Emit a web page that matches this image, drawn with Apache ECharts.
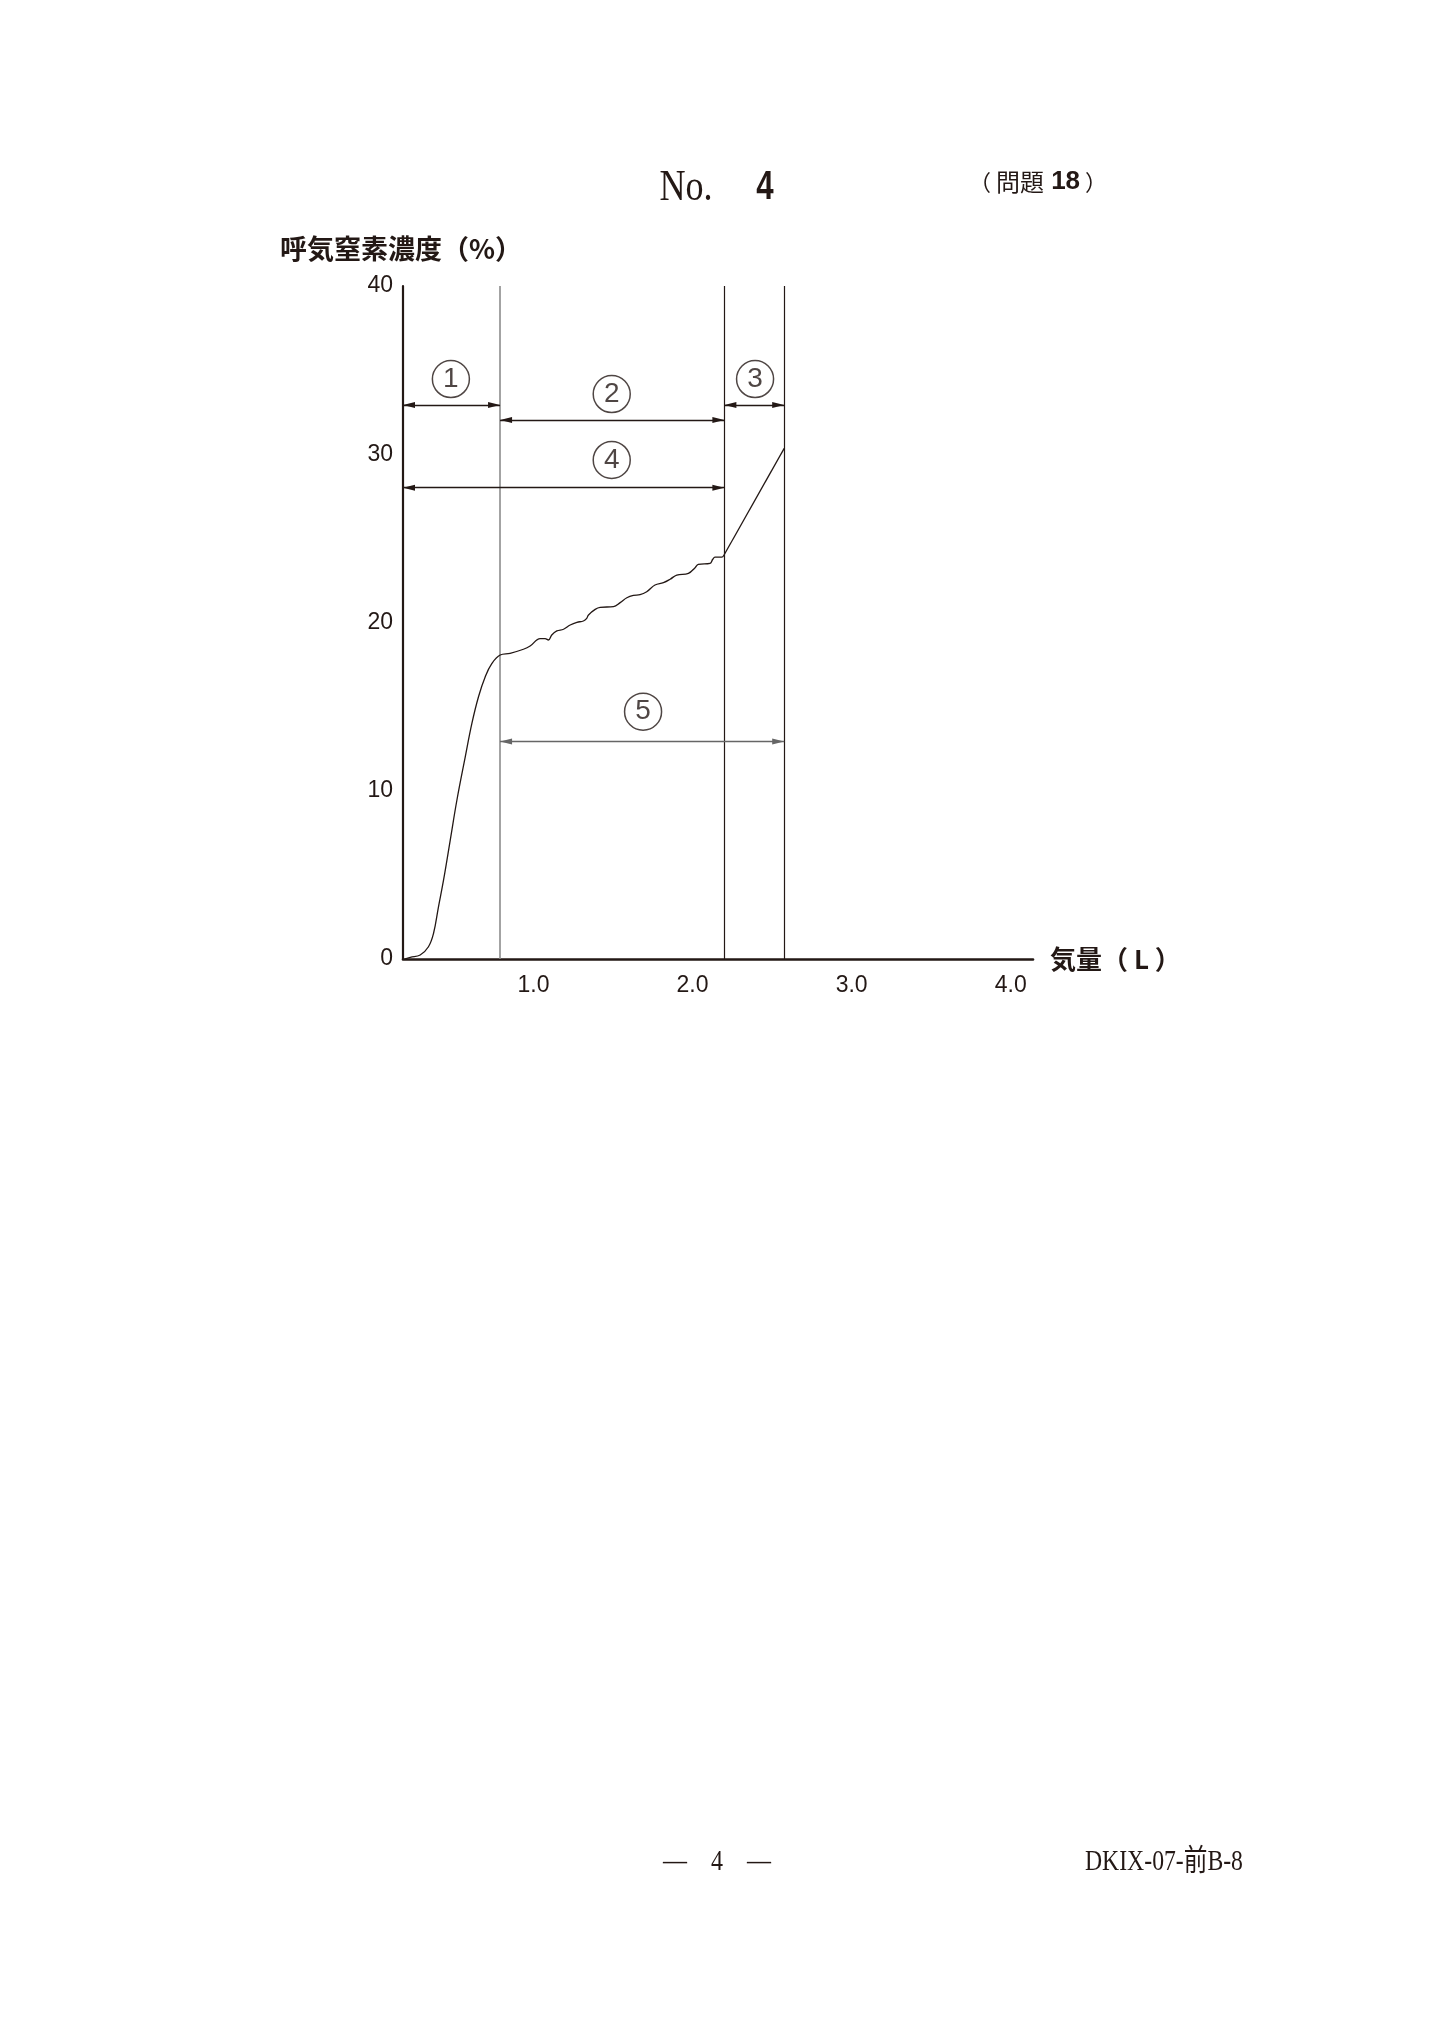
<!DOCTYPE html>
<html><head><meta charset="utf-8">
<script src="https://cdn.jsdelivr.net/npm/echarts@6/dist/echarts.min.js"></script>
<style>html,body{margin:0;padding:0;background:#fff}#c{width:1434px;height:2040px}</style>
</head><body><div id="c"></div>
<script>
// Expired-nitrogen curve (volume L, N2 %)
const volume = [0.19, 0.226, 0.288, 0.340, 0.372, 0.403, 0.435, 0.477, 0.519, 0.571, 0.613, 0.655, 0.697, 0.739, 0.791,
  0.853, 0.937, 0.979, 1.042, 1.073, 1.094, 1.115, 1.147, 1.189, 1.231, 1.273, 1.314, 1.335, 1.346, 1.388, 1.419, 1.503,
  1.545, 1.587, 1.628, 1.670, 1.712, 1.764, 1.817, 1.859, 1.901, 1.974, 2.016, 2.036, 2.110, 2.127, 2.141, 2.183, 2.198];
const n2 = [0, 0.1, 0.24, 0.73, 1.53, 3.1, 4.7, 7.07, 9.45, 12.0, 14.0, 15.6, 16.78, 17.57, 18.07,
  18.17, 18.41, 18.60, 19.04, 19.04, 18.96, 19.26, 19.50, 19.60, 19.85, 20.01, 20.09, 20.25, 20.45, 20.78, 20.90, 20.94,
  21.18, 21.47, 21.61, 21.65, 21.83, 22.23, 22.37, 22.57, 22.82, 22.92, 23.26, 23.46, 23.52, 23.76, 23.88, 23.88, 24.01];
// Phase III -> IV straight rise
const riseVolume = [2.198, 2.576];
const riseN2 = [24.01, 30.35];

const yTicks = [0, 10, 20, 30, 40];
const xTickLabels = [1, 2, 3, 4];
const boundaryVolumes = [0.79, 2.2, 2.576];

// Spans ①-⑤
const spanLabels = ['1', '2', '3', '4', '5'];
const spanStart = [0.18, 0.79, 2.2, 0.18, 0.79];
const spanEnd = [0.79, 2.2, 2.576, 2.2, 2.576];
const spanLevel = [32.93, 32.04, 32.93, 28.01, 12.92];
const labelX = [0.481, 1.492, 2.393, 1.492, 1.689];
const labelY = [34.47, 33.58, 34.47, 29.66, 14.70];

const INK = '#231815';
const chart = echarts.init(document.getElementById('c'), null, {renderer: 'canvas'});

const curveData = volume.map((v, i) => [v, n2[i]]);
const riseData = riseVolume.map((v, i) => [v, riseN2[i]]);

const boundaryStyles = [
  {color: '#8c8c8c', width: 1.6, type: 'solid'},
  {color: INK, width: 1.2, type: 'solid'},
  {color: INK, width: 1.2, type: 'solid'}
];
const boundaryLines = boundaryVolumes.map((x, i) => [
  {coord: [x, yTicks[0]], lineStyle: boundaryStyles[i]},
  {coord: [x, yTicks[yTicks.length - 1]]}
]);
const spanColors = [INK, INK, INK, INK, '#666'];
const spanLines = spanLabels.map((l, i) => [
  {coord: [spanStart[i], spanLevel[i]], lineStyle: {color: spanColors[i], width: 1.4, type: 'solid'}, itemStyle: {color: INK}},
  {coord: [spanEnd[i], spanLevel[i]], itemStyle: {color: INK}}
]);

const option = {
  animation: false,
  backgroundColor: '#fff',
  grid: {left: 403, top: 286, width: 630, height: 673, containLabel: false},
  xAxis: {
    type: 'value', min: 0.18, max: 4.14,
    axisLine: {show: true, lineStyle: {color: INK, width: 2.6}},
    axisTick: {show: false},
    splitLine: {show: false},
    axisLabel: {
      customValues: xTickLabels,
      formatter: v => v.toFixed(1),
      margin: 15, fontSize: 23, fontFamily: 'Liberation Sans', color: INK
    },
    name: '気量（ L ）', nameLocation: 'end', nameGap: 17,
    nameTextStyle: {fontSize: 26, fontWeight: 'bold', fontFamily: 'Noto Sans CJK JP', color: INK, verticalAlign: 'middle', align: 'left'}
  },
  yAxis: {
    type: 'value', min: yTicks[0], max: yTicks[yTicks.length - 1], interval: 10,
    axisLine: {show: true, lineStyle: {color: INK, width: 2.2}},
    axisTick: {show: false},
    splitLine: {show: false},
    axisLabel: {margin: 10, fontSize: 23, fontFamily: 'Liberation Sans', color: INK, padding: [9, 0, 0, 0]},
    name: '呼気窒素濃度（%）', nameLocation: 'end', nameGap: 37,
    nameTextStyle: {fontSize: 27, fontWeight: 'bold', fontFamily: 'Noto Sans CJK JP', color: INK, verticalAlign: 'middle', align: 'center', padding: [0, 4, 0, 0]}
  },
  series: [
    {
      name: 'boundaries', type: 'line', data: [], silent: true,
      markLine: {silent: true, symbol: ['none', 'none'], label: {show: false}, emphasis: {disabled: true}, data: boundaryLines}
    },
    {
      name: 'spans', type: 'line', data: [], silent: true,
      markLine: {
        silent: true, symbol: ['triangle', 'triangle'], symbolSize: [6, 12], symbolOffset: [[0, 6], [0, 6]],
        label: {show: false}, emphasis: {disabled: true}, data: spanLines
      }
    },
    {
      name: 'N2', type: 'line', data: curveData, showSymbol: false, smooth: 0.4, silent: true,
      lineStyle: {color: INK, width: 1.3}, z: 5
    },
    {
      name: 'rise', type: 'line', data: riseData, showSymbol: false, smooth: false, silent: true,
      lineStyle: {color: INK, width: 1.3}, z: 5
    },
    {
      name: 'labels', type: 'scatter', silent: true, z: 6,
      data: labelX.map((x, i) => [x, labelY[i], spanLabels[i]]),
      symbol: 'circle', symbolSize: 37,
      itemStyle: {color: '#fff', borderColor: INK, borderWidth: 1.5},
      label: {show: true, position: 'inside', formatter: p => p.value[2], fontSize: 28, fontFamily: 'Liberation Sans', color: INK}
    }
  ],
  graphic: [
    {type: 'text', x: 686, y: 188, scaleX: 0.82, style: {text: 'No.', font: '44px "Liberation Serif"', fill: INK, align: 'center', verticalAlign: 'middle'}},
    {type: 'text', x: 765, y: 188, scaleX: 0.78, style: {text: '4', font: 'bold 40px "Liberation Sans"', fill: INK, align: 'center', verticalAlign: 'middle'}},
    {type: 'text', x: 1038, y: 182, style: {
      text: '{p|（ }{k|問題}{n| 18}{p| ）}', align: 'center', verticalAlign: 'middle',
      rich: {
        p: {font: '22px "Noto Sans CJK JP"', fill: INK},
        k: {font: '24px "Noto Sans CJK JP"', fill: INK},
        n: {font: 'bold 26px "Liberation Sans Narrow", "Liberation Sans"', fill: INK}
      }}},
    {type: 'text', x: 717, y: 1862, scaleX: 0.8, style: {text: '—　4　—', font: '30px "Liberation Serif", "Noto Sans CJK JP"', fill: INK, align: 'center', verticalAlign: 'middle'}},
    {type: 'text', x: 1085, y: 1862, scaleX: 0.79, style: {text: 'DKIX-07-前B-8', font: '30px "Liberation Serif", "Noto Sans CJK JP"', fill: INK, align: 'left', verticalAlign: 'middle'}}
  ]
};
chart.setOption(option);
</script>
</body></html>
